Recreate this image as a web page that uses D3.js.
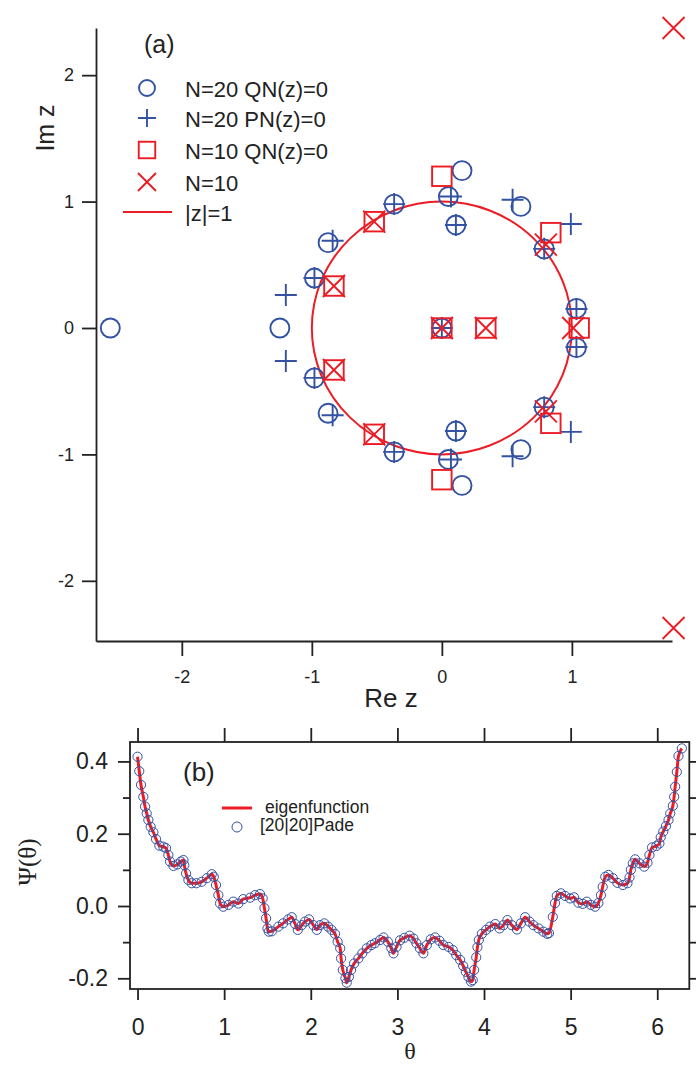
<!DOCTYPE html>
<html>
<head>
<meta charset="utf-8">
<script src="https://cdn.jsdelivr.net/npm/d3@7"></script>
<style>
  html, body { margin: 0; padding: 0; background: #fff; }
  svg { display: block; }
  .sans { font-family: "Liberation Sans", Arial, Helvetica, sans-serif; fill: #222; }
  .serif { font-family: "Liberation Serif", "Times New Roman", serif; fill: #222; }
</style>
</head>
<body>
<script>
// ---------------- DATA ----------------
// Panel (a): zeros in the complex plane, [Re z, Im z]
const qn20Zeros = [[-2.55,0],[-1.246,0],[-0.98,0.395],[-0.98,-0.395],[-0.875,0.675],[-0.875,-0.675],
  [-0.367,0.98],[-0.367,-0.98],[0.05,1.04],[0.05,-1.04],[0.108,0.815],[0.108,-0.815],
  [0.155,1.245],[0.155,-1.245],[0.608,0.962],[0.608,-0.962],[0.787,0.626],[0.787,-0.626],
  [1.035,0.155],[1.035,-0.155],[0,0]];
const pn20Zeros = [[-1.2,0.261],[-1.2,-0.261],[-0.98,0.395],[-0.98,-0.395],[-0.84,0.69],[-0.84,-0.69],
  [-0.367,0.98],[-0.367,-0.98],[0.07,1.04],[0.07,-1.04],[0.108,0.815],[0.108,-0.815],
  [0.544,1.015],[0.544,-1.015],[0.787,0.626],[0.787,-0.626],[0.992,0.822],[0.992,-0.822],
  [1.035,0.15],[1.035,-0.15],[0,0]];
const qn10Zeros = [[0,1.2],[0,-1.2],[-0.52,0.841],[-0.52,-0.841],[-0.83,0.332],[-0.83,-0.332],
  [0.838,0.754],[0.838,-0.754],[1.056,0],[0.338,0],[0,0]];
const n10Zeros = [[-0.52,0.841],[-0.52,-0.841],[-0.83,0.332],[-0.83,-0.332],[0.80,0.66],[0.80,-0.66],
  [1.01,0],[0.338,0],[0,0],[1.782,2.373],[1.782,-2.373]];
const unitRadius = 1;
const aXTicks = [-2,-1,0,1];
const aYTicks = [-2,-1,0,1,2];
const aLegend = ["N=20 QN(z)=0","N=20 PN(z)=0","N=10 QN(z)=0","N=10","|z|=1"];

// Panel (b): eigenfunction Psi(theta)
const theta = [0.000,0.020,0.040,0.067,0.087,0.106,0.125,0.152,0.183,0.214,0.252,0.298,0.329,0.356,0.375,
  0.414,0.460,0.499,0.530,0.540,0.560,0.587,0.626,0.680,0.740,0.800,0.857,0.880,0.906,0.933,0.953,0.990,
  1.050,1.106,1.164,1.220,1.300,1.357,1.414,1.445,1.465,1.484,1.500,1.515,1.550,1.626,1.680,1.740,1.780,
  1.820,1.850,1.896,1.934,1.980,2.030,2.070,2.107,2.157,2.200,2.240,2.280,2.310,2.340,2.350,2.370,2.400,
  2.415,2.440,2.465,2.500,2.550,2.595,2.647,2.700,2.740,2.800,2.840,2.890,2.930,2.955,2.990,3.030,3.080,
  3.140,3.185,3.220,3.260,3.300,3.340,3.386,3.435,3.485,3.530,3.590,3.640,3.680,3.724,3.760,3.790,3.820,
  3.850,3.870,3.886,3.910,3.924,3.940,3.975,4.024,4.070,4.130,4.180,4.224,4.270,4.320,4.380,4.425,4.475,
  4.524,4.570,4.630,4.686,4.730,4.750,4.794,4.820,4.840,4.887,4.936,4.994,5.040,5.090,5.140,5.187,5.233,
  5.283,5.320,5.350,5.370,5.400,5.436,5.487,5.540,5.603,5.656,5.680,5.695,5.718,5.745,5.795,5.850,5.887,
  5.910,5.940,5.990,6.025,6.040,6.070,6.100,6.130,6.150,6.180,6.195,6.207,6.226,6.245,6.284];
const psi = [0.413,0.373,0.335,0.302,0.275,0.256,0.238,0.219,0.204,0.185,0.167,0.164,0.160,0.141,0.123,
  0.111,0.115,0.123,0.127,0.113,0.090,0.072,0.063,0.063,0.067,0.077,0.088,0.081,0.058,0.030,0.007,-0.002,
  0.003,0.012,0.007,0.019,0.023,0.030,0.033,0.021,-0.006,-0.034,-0.062,-0.071,-0.070,-0.057,-0.048,-0.037,-0.031,
  -0.050,-0.066,-0.053,-0.043,-0.037,-0.053,-0.066,-0.053,-0.048,-0.057,-0.066,-0.077,-0.099,-0.117,-0.145,-0.177,-0.200,
  -0.212,-0.196,-0.177,-0.159,-0.145,-0.131,-0.117,-0.108,-0.103,-0.094,-0.087,-0.099,-0.117,-0.131,-0.113,-0.095,-0.088,
  -0.082,-0.090,-0.103,-0.117,-0.131,-0.108,-0.092,-0.087,-0.096,-0.108,-0.113,-0.122,-0.136,-0.149,-0.166,-0.182,-0.196,
  -0.209,-0.205,-0.177,-0.142,-0.114,-0.094,-0.077,-0.066,-0.057,-0.050,-0.062,-0.053,-0.039,-0.053,-0.065,-0.048,-0.031,
  -0.043,-0.053,-0.062,-0.071,-0.077,-0.075,-0.030,0.008,0.028,0.035,0.028,0.021,0.024,0.009,0.006,0.012,0.003,
  -0.002,0.008,0.030,0.053,0.081,0.086,0.077,0.064,0.058,0.063,0.079,0.100,0.118,0.129,0.118,0.109,0.120,
  0.141,0.162,0.166,0.173,0.190,0.206,0.221,0.238,0.256,0.277,0.302,0.330,0.371,0.415,0.436];
const bXTicks = [0,1,2,3,4,5,6];
const bYTicks = [-0.2,0.0,0.2,0.4];
const bYMinor = [-0.1,0.1,0.3];
const bYAll = [-0.2,-0.1,0.0,0.1,0.2,0.3,0.4];
const bLegend = ["eigenfunction","[20|20]Pade"];

// ---------------- STYLE ----------------
const BLUE = "#3452a3", RED = "#ec1c24", INK = "#222";

const svg = d3.select("body").append("svg").attr("width",696).attr("height",1066);
svg.append("rect").attr("width",696).attr("height",1066).attr("fill","#fff");

// ---------------- PANEL (a) ----------------
const xA = d3.scaleLinear().domain([-2.66, 1.77]).range([96, 672]);
const yA = d3.scaleLinear().domain([-2.476, 2.373]).range([641, 28]);

const gA = svg.append("g");
const axL = gA.append("g").attr("transform","translate(96,0)")
  .call(d3.axisLeft(yA).tickValues(aYTicks).tickSize(14).tickSizeOuter(0).tickPadding(8).tickFormat(d3.format("d")));
const axB = gA.append("g").attr("transform","translate(0,641)")
  .call(d3.axisBottom(xA).tickValues(aXTicks).tickSize(15).tickSizeOuter(0).tickPadding(14).tickFormat(d3.format("d")));
[axL, axB].forEach(ax => {
  ax.selectAll("path,line").attr("stroke",INK).attr("stroke-width",1.8);
  ax.selectAll("text").attr("class","sans").style("font-size","18px").attr("fill",INK);
});
axL.selectAll("text").text(d => String(d));
axB.selectAll("text").text(d => String(d));

gA.append("text").attr("class","sans").attr("x",391).attr("y",707).attr("text-anchor","middle")
  .style("font-size","26px").text("Re z");
gA.append("text").attr("class","sans").attr("transform","translate(54,128) rotate(-90)").attr("text-anchor","middle")
  .style("font-size","25px").text("Im z");
gA.append("text").attr("class","sans").attr("x",144).attr("y",53).style("font-size","25px").text("(a)");

// unit circle |z|=1
gA.append("ellipse").attr("cx",xA(0)).attr("cy",yA(0))
  .attr("rx",xA(unitRadius)-xA(0)).attr("ry",yA(0)-yA(unitRadius))
  .attr("fill","none").attr("stroke",RED).attr("stroke-width",2);

function drawCircle(g, x, y, r, c){ g.append("circle").attr("cx",x).attr("cy",y).attr("r",r)
  .attr("fill","none").attr("stroke",c).attr("stroke-width",1.9); }
function drawPlus(g, x, y, h, c){ g.append("path").attr("d",`M${x-h},${y}H${x+h}M${x},${y-h}V${y+h}`)
  .attr("fill","none").attr("stroke",c).attr("stroke-width",1.9); }
function drawSquare(g, x, y, s, c){ g.append("rect").attr("x",x-s/2).attr("y",y-s/2).attr("width",s).attr("height",s)
  .attr("fill","none").attr("stroke",c).attr("stroke-width",1.9); }
function drawCross(g, x, y, h, c){ g.append("path").attr("d",`M${x-h},${y-h}L${x+h},${y+h}M${x-h},${y+h}L${x+h},${y-h}`)
  .attr("fill","none").attr("stroke",c).attr("stroke-width",1.9); }

const pts = gA.append("g");
qn20Zeros.forEach(d => drawCircle(pts, xA(d[0]), yA(d[1]), 9.5, BLUE));
pn20Zeros.forEach(d => drawPlus(pts, xA(d[0]), yA(d[1]), 11, BLUE));
qn10Zeros.forEach(d => drawSquare(pts, xA(d[0]), yA(d[1]), 19.5, RED));
n10Zeros.forEach(d => drawCross(pts, xA(d[0]), yA(d[1]), 11, RED));

// legend (a)
const legA = gA.append("g");
const rowsY = [88,118,150,182,212];
drawCircle(legA,147,rowsY[0],8,BLUE);
drawPlus(legA,147,rowsY[1],9,BLUE);
drawSquare(legA,147,rowsY[2],16.5,RED);
drawCross(legA,147,rowsY[3],9,RED);
legA.append("line").attr("x1",123).attr("x2",172).attr("y1",rowsY[4]).attr("y2",rowsY[4])
  .attr("stroke",RED).attr("stroke-width",2);
aLegend.forEach((t,i) => legA.append("text").attr("class","sans").attr("x",185).attr("y",rowsY[i]+9)
  .style("font-size","22px").text(t));

// ---------------- PANEL (b) ----------------
const xB = d3.scaleLinear().domain([-0.087, 6.37]).range([130, 689.3]);
const yB = d3.scaleLinear().domain([-0.2296, 0.4537]).range([989, 742]);
const gB = svg.append("g");

const bL = gB.append("g").attr("transform","translate(130,0)")
  .call(d3.axisLeft(yB).tickValues(bYTicks).tickSize(12).tickSizeOuter(0).tickPadding(10).tickFormat(d => d.toFixed(1)));
const bLm = gB.append("g").attr("transform","translate(130,0)")
  .call(d3.axisLeft(yB).tickValues(bYMinor).tickSize(7).tickSizeOuter(0).tickFormat(""));
const bB = gB.append("g").attr("transform","translate(0,989)")
  .call(d3.axisBottom(xB).tickValues(bXTicks).tickSize(11).tickSizeOuter(0).tickPadding(19).tickFormat(d3.format("d")));
const bT = gB.append("g").attr("transform","translate(0,742)")
  .call(d3.axisTop(xB).tickValues(bXTicks).tickSize(14).tickSizeOuter(0).tickFormat(""));
const bR = gB.append("g").attr("transform","translate(689.3,0)")
  .call(d3.axisRight(yB).tickValues(bYAll).tickSize(7).tickSizeOuter(0).tickFormat(""));
[bL,bLm,bB,bT,bR].forEach(ax => {
  ax.selectAll("path").remove();
  ax.selectAll("line").attr("stroke",INK).attr("stroke-width",1.8);
  ax.selectAll("text").attr("class","sans").style("font-size","23px").attr("fill",INK);
});
gB.append("rect").attr("x",130).attr("y",742).attr("width",689.3-130).attr("height",989-742)
  .attr("fill","none").attr("stroke",INK).attr("stroke-width",1.8);

const series = theta.map((t,i) => [t, psi[i]]);
gB.append("path").datum(series)
  .attr("d", d3.line().x(d => xB(d[0])).y(d => yB(d[1])).curve(d3.curveMonotoneX))
  .attr("fill","none").attr("stroke",RED).attr("stroke-width",3);
gB.append("g").selectAll("circle").data(series).join("circle")
  .attr("cx",d => xB(d[0])).attr("cy",d => yB(d[1])).attr("r",4.6)
  .attr("fill","none").attr("stroke",BLUE).attr("stroke-width",1);

gB.append("text").attr("class","sans").attr("x",183).attr("y",781).style("font-size","26px").text("(b)");
gB.append("line").attr("x1",222).attr("x2",252).attr("y1",808).attr("y2",808).attr("stroke",RED).attr("stroke-width",3);
gB.append("text").attr("class","sans").attr("x",265).attr("y",813).style("font-size","17.5px").text(bLegend[0]);
gB.append("circle").attr("cx",237).attr("cy",827).attr("r",5).attr("fill","none").attr("stroke",BLUE).attr("stroke-width",1);
gB.append("text").attr("class","sans").attr("x",260).attr("y",831).style("font-size","17.5px").text(bLegend[1]);

gB.append("text").attr("class","serif").attr("x",410).attr("y",1059).attr("text-anchor","middle")
  .style("font-size","24px").text("θ");
gB.append("text").attr("class","serif").attr("transform","translate(36,862) rotate(-90)").attr("text-anchor","middle")
  .style("font-size","25px").text("Ψ(θ)");
</script>
</body>
</html>
